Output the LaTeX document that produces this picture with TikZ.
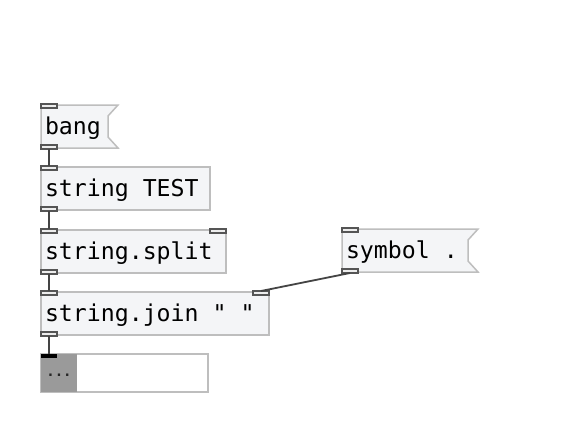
\documentclass[tikz,border=0pt]{standalone}
\usepackage{fontspec}
\setmonofont{DejaVu Sans Mono}
\usetikzlibrary{positioning,backgrounds}

\definecolor{boxfill}{HTML}{F4F5F7}
\definecolor{boxline}{HTML}{BEBEBE}
\definecolor{portline}{HTML}{555555}
\definecolor{portfill}{HTML}{EDEDED}
\definecolor{wireline}{HTML}{444444}
\definecolor{tagfill}{HTML}{9A9A9A}

\begin{document}
\begin{tikzpicture}[
       x=1pt, y=-1pt,
       obj/.style={rectangle, draw=boxline, fill=boxfill, line width=1.5pt, outer sep=0pt,
                   anchor=north west, minimum height=43pt, inner xsep=4pt, inner ysep=0pt,
                   text height=16pt, text depth=0pt, font=\fontsize{23.2}{27}\ttfamily,
                   execute at begin node={\spaceskip=0.602em\relax}},
       msg/.style={obj, draw=none, fill=none},
       flag/.style={draw=boxline, fill=boxfill, line width=1.5pt, line join=miter},
       port/.style={rectangle, draw=portline, fill=portfill, line width=1.3pt, outer sep=0pt,
                    minimum width=16pt, minimum height=4pt, inner sep=0pt},
       wire/.style={draw=wireline, line width=1.8pt}
   ]

   % objects and messages
   \node[obj, text width=161pt] (test) at (41,167) {string TEST};
   \node[obj, text width=177pt] (split) at (41,230) {string.split};
   \node[obj, text width=220pt] (join) at (41,292) {string.join " "};
   \node[msg, text width=69pt] (bang) at (41,105) {bang};
   \node[msg, text width=128pt] (sym) at (342,229) {symbol .};

   \begin{scope}[on background layer]
       \path[fill=white] (0,0) rectangle (561,432);
       \foreach \m in {bang,sym} {
           \draw[flag] (\m.north west) -- (\m.north east)
               -- ([xshift=-10pt,yshift=-11pt]\m.north east)
               -- ([xshift=-10pt,yshift=11pt]\m.south east)
               -- (\m.south east) -- (\m.south west) -- cycle;
       }
   \end{scope}

   % list box
   \node[rectangle, draw=boxline, fill=white, line width=1.5pt, outer sep=0pt, anchor=north west,
         minimum width=167pt, minimum height=38pt] (atom) at (41,354) {};
   \node[rectangle, fill=tagfill, outer sep=0pt, anchor=north west, minimum width=36pt,
         minimum height=38pt, inner sep=0pt, text height=7pt, text depth=0pt,
         font=\fontsize{14}{16}\ttfamily\bfseries, text=black!85] (tag) at (atom.north west) {...};
   \node[rectangle, fill=black, outer sep=0pt, anchor=north west, minimum width=16pt,
         minimum height=3.5pt, inner sep=0pt] (atom-in) at (atom.north west) {};

   % inlets and outlets
   \foreach \n in {bang,test,split,join,sym} {
       \node[port, anchor=north west] (\n-in) at ([yshift=1pt]\n.north west) {};
       \node[port, anchor=south west] (\n-out) at ([yshift=-1pt]\n.south west) {};
   }
   \node[port, anchor=north east] (split-in2) at ([yshift=1pt]split.north east) {};
   \node[port, anchor=north east] (join-in2) at ([yshift=1pt]join.north east) {};

   % connections
   \draw[wire] (bang-out.south) -- (test-in.north);
   \draw[wire] (test-out.south) -- (split-in.north);
   \draw[wire] (split-out.south) -- (join-in.north);
   \draw[wire] (join-out.south) -- (atom-in.north -| join-out.south);
   \draw[wire] (sym-out.south) -- (join-in2.north);
   \end{tikzpicture}
\end{document}
